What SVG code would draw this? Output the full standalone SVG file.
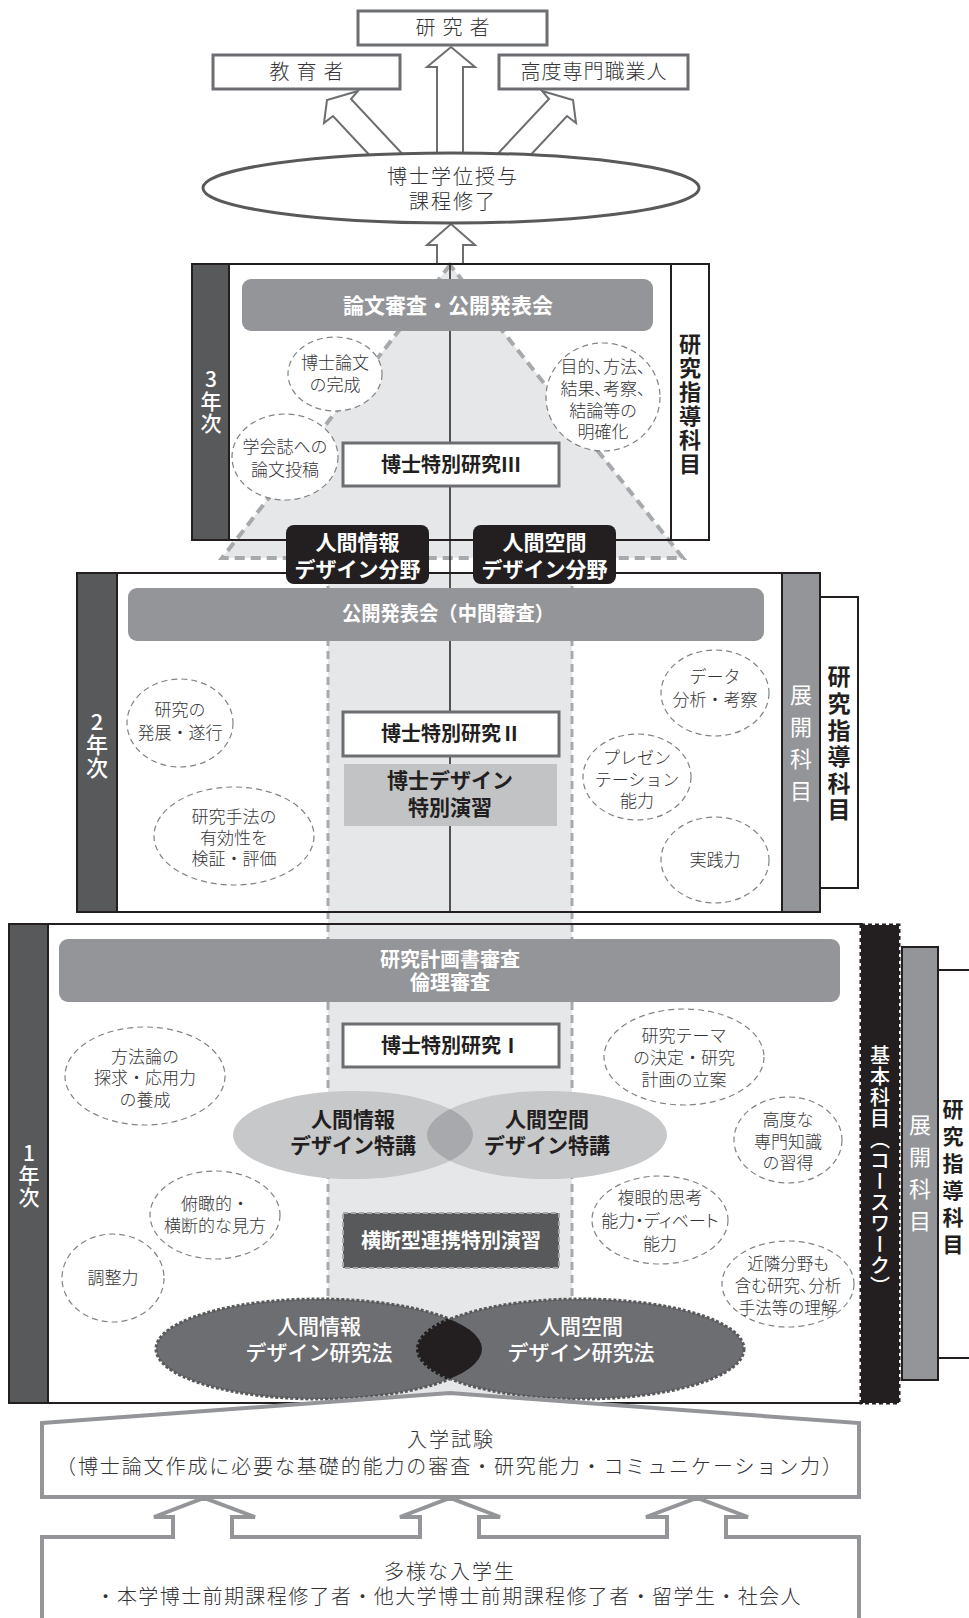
<svg xmlns="http://www.w3.org/2000/svg" width="969" height="1618" viewBox="0 0 969 1618">
<defs>
<style>
text{font-family:"Noto Sans CJK JP","Noto Sans CJK SC",sans-serif;text-anchor:middle;}
.t{font-size:20px;fill:#333335;font-weight:300;}
.b{font-size:17px;fill:#333335;font-weight:300;}
.hw{font-size:20px;fill:#fff;font-weight:700;}
.hk{font-size:20px;fill:#231f20;font-weight:700;}
.bub{fill:#fff;stroke:#808285;stroke-width:1.2;stroke-dasharray:6 4;}
.box{fill:#fff;stroke:#6d6e71;stroke-width:3;}
.obox{fill:#fff;stroke:#6d6e71;stroke-width:3;}
.arrow{fill:#fff;stroke:#6d6e71;stroke-width:2;}
.dark{fill:#58595b;stroke:#231f20;stroke-width:2;}
.gbar{fill:#939598;}
.side{fill:#939598;stroke:#231f20;stroke-width:2;}
.wbox{fill:#fff;stroke:#231f20;stroke-width:2;}
.frame{fill:none;stroke:#231f20;stroke-width:2;}
.v{writing-mode:vertical-rl;text-orientation:upright;}
.palt{font-feature-settings:"palt";}
</style>
<clipPath id="ck1"><ellipse cx="353" cy="1135" rx="120" ry="44"/></clipPath>
<clipPath id="ck2"><ellipse cx="319" cy="1349" rx="163" ry="50"/></clipPath>
</defs>

<rect width="969" height="1618" fill="#fff"/>

<!-- connectors (top) -->
<g id="connectors">
  <polygon class="arrow" points="437,165 437,67 427,67 451,47 475,67 463,67 463,165"/>
  <polygon class="arrow" points="375,161 333,116 324,123 327,100 358,91 351,99 409,161"/>
  <polygon class="arrow" points="525,161 567,116 576,123 573,100 542,91 549,99 491,161"/>
  <polygon class="arrow" points="437,264 437,245 427,245 451,224 475,245 463,245 463,264"/>
</g>

<g id="n-kenkyusha">
  <rect class="obox" x="358" y="11" width="189" height="34"/>
  <text class="t" x="456" y="35" style="letter-spacing:7px">研究者</text>
</g>
<g id="n-kyoikusha">
  <rect class="obox" x="213" y="55" width="187" height="34"/>
  <text class="t" x="310" y="79" style="letter-spacing:7px">教育者</text>
</g>
<g id="n-senmon">
  <rect class="obox" x="499" y="55" width="189" height="34"/>
  <text class="t" x="594" y="79" style="letter-spacing:1px">高度専門職業人</text>
</g>
<g id="n-degree">
  <ellipse cx="451" cy="188" rx="248" ry="35" fill="#fff" stroke="#58595b" stroke-width="3"/>
  <text class="t" style="letter-spacing:2px"><tspan x="453" y="184">博士学位授与</tspan><tspan x="453" y="209">課程修了</tspan></text>
</g>

<!-- year frames: fills -->
<g id="year3-frame">
  <rect x="192" y="264" width="517" height="276" fill="#fff"/>
  <polygon points="450,265 222,558 683,558" fill="#e6e7e8" stroke="#a7a9ac" stroke-width="4" stroke-dasharray="10 6"/>
</g>
<rect x="77" y="573" width="743" height="339" fill="#fff"/>
<rect x="9" y="924" width="853" height="479" fill="#fff"/>

<!-- central band -->
<g id="band">
  <rect x="328" y="573" width="244" height="835" fill="#e6e7e8"/>
  <line x1="328" y1="573" x2="328" y2="1405" stroke="#a7a9ac" stroke-width="3" stroke-dasharray="8 5"/>
  <line x1="572" y1="573" x2="572" y2="1405" stroke="#a7a9ac" stroke-width="3" stroke-dasharray="8 5"/>
</g>
<line x1="450" y1="264" x2="450" y2="912" stroke="#231f20" stroke-width="1.5"/>

<!-- frame outlines -->
<rect class="frame" x="192" y="264" width="517" height="276"/>
<rect class="frame" x="77" y="573" width="743" height="339"/>
<rect class="frame" x="9" y="924" width="853" height="479"/>

<!-- year 3 -->
<g id="year3">
  <rect class="dark" x="192" y="264" width="37" height="276"/>
  <text class="v" x="211" y="402" fill="#fff" font-size="21" font-weight="500" style="letter-spacing:1px">3年次</text>
  <rect class="wbox" x="671" y="264" width="38" height="276"/>
  <text class="v" x="690" y="405" fill="#231f20" font-size="22" font-weight="700" style="letter-spacing:2px">研究指導科目</text>
</g>
<g id="n-ronbun-shinsa">
  <rect class="gbar" x="242" y="279" width="411" height="52" rx="9"/>
  <text class="hw" x="448" y="313" style="font-size:21px">論文審査・公開発表会</text>
</g>
<g id="n-hakase3">
  <rect class="box" x="343" y="443" width="216" height="43"/>
  <text class="hk" x="451" y="472">博士特別研究Ⅲ</text>
</g>
<g id="b-kansei">
  <ellipse class="bub" cx="335" cy="374" rx="47" ry="37"/>
  <text class="b"><tspan x="335" y="369">博士論文</tspan><tspan x="335" y="391">の完成</tspan></text>
</g>
<g id="b-toko">
  <ellipse class="bub" cx="285" cy="457" rx="53" ry="43"/>
  <text class="b"><tspan x="285" y="453">学会誌への</tspan><tspan x="285" y="476">論文投稿</tspan></text>
</g>
<g id="b-meikaku">
  <ellipse class="bub" cx="603" cy="397" rx="57" ry="54"/>
  <text class="b palt"><tspan x="603" y="373">目的、方法、</tspan><tspan x="603" y="395">結果、考察、</tspan><tspan x="603" y="417">結論等の</tspan><tspan x="603" y="438">明確化</tspan></text>
</g>
<g id="n-field-info">
  <rect x="286" y="525" width="143" height="59" rx="8" fill="#231f20"/>
  <text class="hw" style="font-size:21px"><tspan x="357.5" y="550">人間情報</tspan><tspan x="357.5" y="577">デザイン分野</tspan></text>
</g>
<g id="n-field-space">
  <rect x="473" y="525" width="143" height="59" rx="8" fill="#231f20"/>
  <text class="hw" style="font-size:21px"><tspan x="544.5" y="550">人間空間</tspan><tspan x="544.5" y="577">デザイン分野</tspan></text>
</g>

<!-- year 2 -->
<g id="year2">
  <rect class="dark" x="77" y="573" width="40" height="339"/>
  <text class="v" x="97" y="745" fill="#fff" font-size="22" font-weight="500" style="letter-spacing:1px">2年次</text>
  <rect class="side" x="782" y="573" width="38" height="339"/>
  <text class="v" x="801" y="747.5" fill="#fff" font-size="22" style="letter-spacing:10px">展開科目</text>
  <rect class="wbox" x="820" y="597" width="38" height="291"/>
  <text class="v" x="839" y="745" fill="#231f20" font-size="23" font-weight="700" style="letter-spacing:3.6px">研究指導科目</text>
</g>
<g id="n-chukan">
  <rect class="gbar" x="128" y="588" width="636" height="53" rx="9"/>
  <text class="hw" x="448" y="621" textLength="212" lengthAdjust="spacingAndGlyphs">公開発表会（中間審査）</text>
</g>
<g id="n-hakase2">
  <rect class="box" x="343" y="712" width="216" height="44"/>
  <text class="hk" x="451" y="741">博士特別研究Ⅱ</text>
</g>
<g id="n-design-enshu">
  <rect x="344" y="764" width="213" height="62" fill="#c2c3c5"/>
  <text class="hk" style="font-size:21px"><tspan x="450" y="788">博士デザイン</tspan><tspan x="450" y="815">特別演習</tspan></text>
</g>
<g id="b-hatten">
  <ellipse class="bub" cx="180" cy="723" rx="53" ry="44"/>
  <text class="b"><tspan x="180" y="716">研究の</tspan><tspan x="180" y="739">発展・遂行</tspan></text>
</g>
<g id="b-yukosei">
  <ellipse class="bub" cx="234" cy="836" rx="80" ry="49"/>
  <text class="b"><tspan x="234" y="823">研究手法の</tspan><tspan x="234" y="844">有効性を</tspan><tspan x="234" y="865">検証・評価</tspan></text>
</g>
<g id="b-data">
  <ellipse class="bub" cx="715" cy="693" rx="54" ry="43"/>
  <text class="b"><tspan x="715" y="683">データ</tspan><tspan x="715" y="706">分析・考察</tspan></text>
</g>
<g id="b-presen">
  <ellipse class="bub" cx="637" cy="777" rx="54" ry="43"/>
  <text class="b"><tspan x="637" y="764">プレゼン</tspan><tspan x="637" y="786">テーション</tspan><tspan x="637" y="807">能力</tspan></text>
</g>
<g id="b-jissen">
  <ellipse class="bub" cx="715" cy="860" rx="54" ry="43"/>
  <text class="b" x="715" y="866">実践力</text>
</g>

<!-- year 1 -->
<g id="year1">
  <rect class="dark" x="9" y="924" width="39" height="479"/>
  <text class="v" x="29" y="1176" fill="#fff" font-size="21" font-weight="500" style="letter-spacing:1px">1年次</text>
  <rect x="861" y="925" width="38" height="478" fill="#231f20" stroke="#231f20" stroke-width="3" stroke-dasharray="4 3"/>
  <text class="v" x="880" y="1171" fill="#fff" font-size="20" font-weight="500" style="letter-spacing:1px">基本科目（コースワーク）</text>
  <rect class="side" x="902" y="947" width="36" height="433"/>
  <text class="v" x="920" y="1178" fill="#fff" font-size="22" style="letter-spacing:10px">展開科目</text>
  <path d="M969,970 H938 V1358 H969" fill="#fff" stroke="#231f20" stroke-width="2"/>
  <text class="v" x="953" y="1180" fill="#231f20" font-size="21" font-weight="700" style="letter-spacing:6px">研究指導科目</text>
</g>
<g id="n-keikaku">
  <rect class="gbar" x="59" y="939" width="781" height="63" rx="9"/>
  <text class="hw"><tspan x="450" y="967">研究計画書審査</tspan><tspan x="450" y="990">倫理審査</tspan></text>
</g>
<g id="n-hakase1">
  <rect class="box" x="343" y="1024" width="216" height="43"/>
  <text class="hk" x="451" y="1053">博士特別研究Ⅰ</text>
</g>
<g id="n-tokko">
  <ellipse cx="353" cy="1135" rx="120" ry="44" fill="#c7c8ca"/>
  <ellipse cx="547" cy="1135" rx="120" ry="44" fill="#c7c8ca"/>
  <ellipse cx="547" cy="1135" rx="120" ry="44" fill="#a7a9ac" clip-path="url(#ck1)"/>
  <text class="hk" style="font-size:21px"><tspan x="353" y="1127">人間情報</tspan><tspan x="353" y="1153">デザイン特講</tspan></text>
  <text class="hk" style="font-size:21px"><tspan x="547" y="1127">人間空間</tspan><tspan x="547" y="1153">デザイン特講</tspan></text>
</g>
<g id="n-odan">
  <rect x="343" y="1213" width="216" height="55" fill="#58595b" stroke="#a7a9ac" stroke-width="2" stroke-dasharray="5 3"/>
  <text class="hw" x="451" y="1248">横断型連携特別演習</text>
</g>
<g id="n-kenkyuho">
  <ellipse cx="319" cy="1349" rx="163" ry="50" fill="#6d6e71" stroke="#58595b" stroke-width="3" stroke-dasharray="3 2"/>
  <ellipse cx="581" cy="1349" rx="163" ry="50" fill="#6d6e71" stroke="#58595b" stroke-width="3" stroke-dasharray="3 2"/>
  <ellipse cx="581" cy="1349" rx="163" ry="50" fill="#231f20" stroke="#231f20" stroke-width="4" stroke-dasharray="3 2" clip-path="url(#ck2)"/>
  <text fill="#fff" font-size="21" font-weight="500"><tspan x="319" y="1334">人間情報</tspan><tspan x="319" y="1360">デザイン研究法</tspan></text>
  <text fill="#fff" font-size="21" font-weight="500"><tspan x="581" y="1334">人間空間</tspan><tspan x="581" y="1360">デザイン研究法</tspan></text>
</g>
<g id="b-hohoron">
  <ellipse class="bub" cx="145" cy="1076" rx="80" ry="49"/>
  <text class="b"><tspan x="145" y="1063">方法論の</tspan><tspan x="145" y="1084">探求・応用力</tspan><tspan x="145" y="1106">の養成</tspan></text>
</g>
<g id="b-fukan">
  <ellipse class="bub" cx="215" cy="1215" rx="65" ry="44"/>
  <text class="b"><tspan x="215" y="1210">俯瞰的・</tspan><tspan x="215" y="1232">横断的な見方</tspan></text>
</g>
<g id="b-chosei">
  <ellipse class="bub" cx="113" cy="1278" rx="51" ry="44"/>
  <text class="b" x="113" y="1284">調整力</text>
</g>
<g id="b-theme">
  <ellipse class="bub" cx="684" cy="1057" rx="80" ry="48"/>
  <text class="b"><tspan x="684" y="1042">研究テーマ</tspan><tspan x="684" y="1064">の決定・研究</tspan><tspan x="684" y="1086">計画の立案</tspan></text>
</g>
<g id="b-senmon">
  <ellipse class="bub" cx="788" cy="1140" rx="54" ry="43"/>
  <text class="b"><tspan x="788" y="1126">高度な</tspan><tspan x="788" y="1148">専門知識</tspan><tspan x="788" y="1169">の習得</tspan></text>
</g>
<g id="b-fukugan">
  <ellipse class="bub" cx="660" cy="1220" rx="68" ry="44"/>
  <text class="b"><tspan x="660" y="1204">複眼的思考</tspan><tspan class="palt" x="660" y="1227">能力・ディベート</tspan><tspan x="660" y="1250">能力</tspan></text>
</g>
<g id="b-kinrin">
  <ellipse class="bub" cx="788" cy="1284" rx="66" ry="43"/>
  <text class="b palt" style="font-size:16.5px"><tspan x="788" y="1270">近隣分野も</tspan><tspan x="788" y="1292">含む研究、分析</tspan><tspan x="788" y="1314">手法等の理解</tspan></text>
</g>

<!-- entrance exam -->
<g id="n-exam">
  <polygon points="42,1423 450,1393 859,1423 859,1497 42,1497" fill="#fff" stroke="#939598" stroke-width="4"/>
  <text class="t"><tspan x="451" y="1447" style="letter-spacing:2px">入学試験</tspan><tspan x="449" y="1474" textLength="786" lengthAdjust="spacing">（博士論文作成に必要な基礎的能力の審査・研究能力・コミュニケーション力）</tspan></text>
</g>
<g id="n-students">
  <path d="M42,1630 V1537 H173 V1517 H154 L204,1498 L255,1517 H232 V1537 H420 V1517 H400 L450,1498 L500,1517 H479 V1537 H667 V1517 H646 L697,1498 L748,1517 H726 V1537 H859 V1630" fill="#fff" stroke="#939598" stroke-width="4"/>
  <text class="t"><tspan x="450" y="1579" style="letter-spacing:2px">多様な入学生</tspan><tspan x="448" y="1604" textLength="705" lengthAdjust="spacing">・本学博士前期課程修了者・他大学博士前期課程修了者・留学生・社会人</tspan></text>
</g>
</svg>
